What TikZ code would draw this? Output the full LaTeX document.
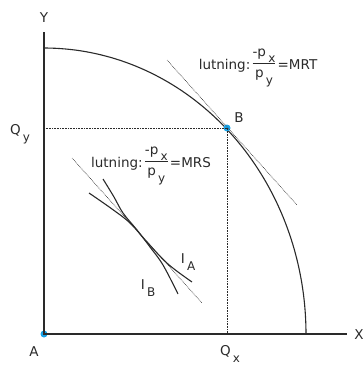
\documentclass[tikz,border=0pt]{standalone}
\usepackage{fontspec}
\setmainfont{DejaVu Sans}
\definecolor{ink}{HTML}{2A2A2A}
\definecolor{dotc}{HTML}{1AA3E8}
\tikzset{
  axis/.style={line width=2.4pt, draw=ink},
  curve/.style={line width=1.1pt, draw=ink},
  guide/.style={line width=0.6pt, draw=ink, dash pattern=on 0.7pt off 0.9pt},
  lbl/.style={text=ink, font=\fontsize{13.5}{16}\selectfont, inner sep=0pt},
  pt/.style={circle, fill=dotc, inner sep=0pt, minimum size=7pt},
}
\newcommand{\subs}[1]{\raisebox{-0.9ex}{\,\fontsize{12}{14}\selectfont #1}}
\newcommand{\slopefrac}{\begin{tabular}{@{}c@{}}-p\subs{x}\\[2pt]\hline\rule{0pt}{1.05em}p\subs{y}\end{tabular}}
\begin{document}
\begin{tikzpicture}[x=1pt,y=-1pt]
\useasboundingbox (0,0) rectangle (364,367);
% axes
\coordinate (top) at (44,32);
\coordinate (right) at (347,334);
\node[pt] (A) at (44,334) {};
\draw[axis] (top) -- (A.center) -- (right);
% transformation curve
\draw[curve] plot[domain=0:90, samples=80] ({44+262*cos(\x)},{334-286*sin(\x)});
% guides to B
\coordinate (qy) at (44,128);
\coordinate (qx) at (227,334);
\node[pt] (B) at (227,128) {};
\draw[guide] (qy) -- (B.center) -- (qx);
% MRT tangent
\coordinate (t1) at (167,60);
\coordinate (t2) at (297,205);
\draw[guide] (t1) -- (t2);
% MRS tangent
\coordinate (s1) at (72,158);
\coordinate (s2) at (202,303);
\draw[guide] (s1) -- (s2);
% indifference curves
\draw[curve] plot[smooth, tension=0.6] coordinates {(89,193) (112,209) (130,223) (147,242) (168,264) (192,282)};
\draw[curve] plot[smooth, tension=0.6] coordinates {(103,179) (114,197) (123,213) (137,230) (150,247) (163,265) (178,294)};
% labels
\node[lbl] (Y) at (44,18) {Y};
\node[lbl] (X) at (359,335) {X};
\node[lbl] (Al) at (34,352) {A};
\node[lbl] (Bl) at (239,118) {B};
\node[lbl] (Qy) at (20,134) {Q\subs{y}};
\node[lbl] (Qx) at (230,354) {Q\subs{x}};
\node[lbl] (IA) at (188,262) {I\subs{A}};
\node[lbl] (IB) at (148,288) {I\subs{B}};
\node[lbl] (MRT) at (258,66) {lutning:\,\slopefrac\,=MRT};
\node[lbl] (MRS) at (151,164) {lutning:\,\slopefrac\,=MRS};
\end{tikzpicture}
\end{document}
